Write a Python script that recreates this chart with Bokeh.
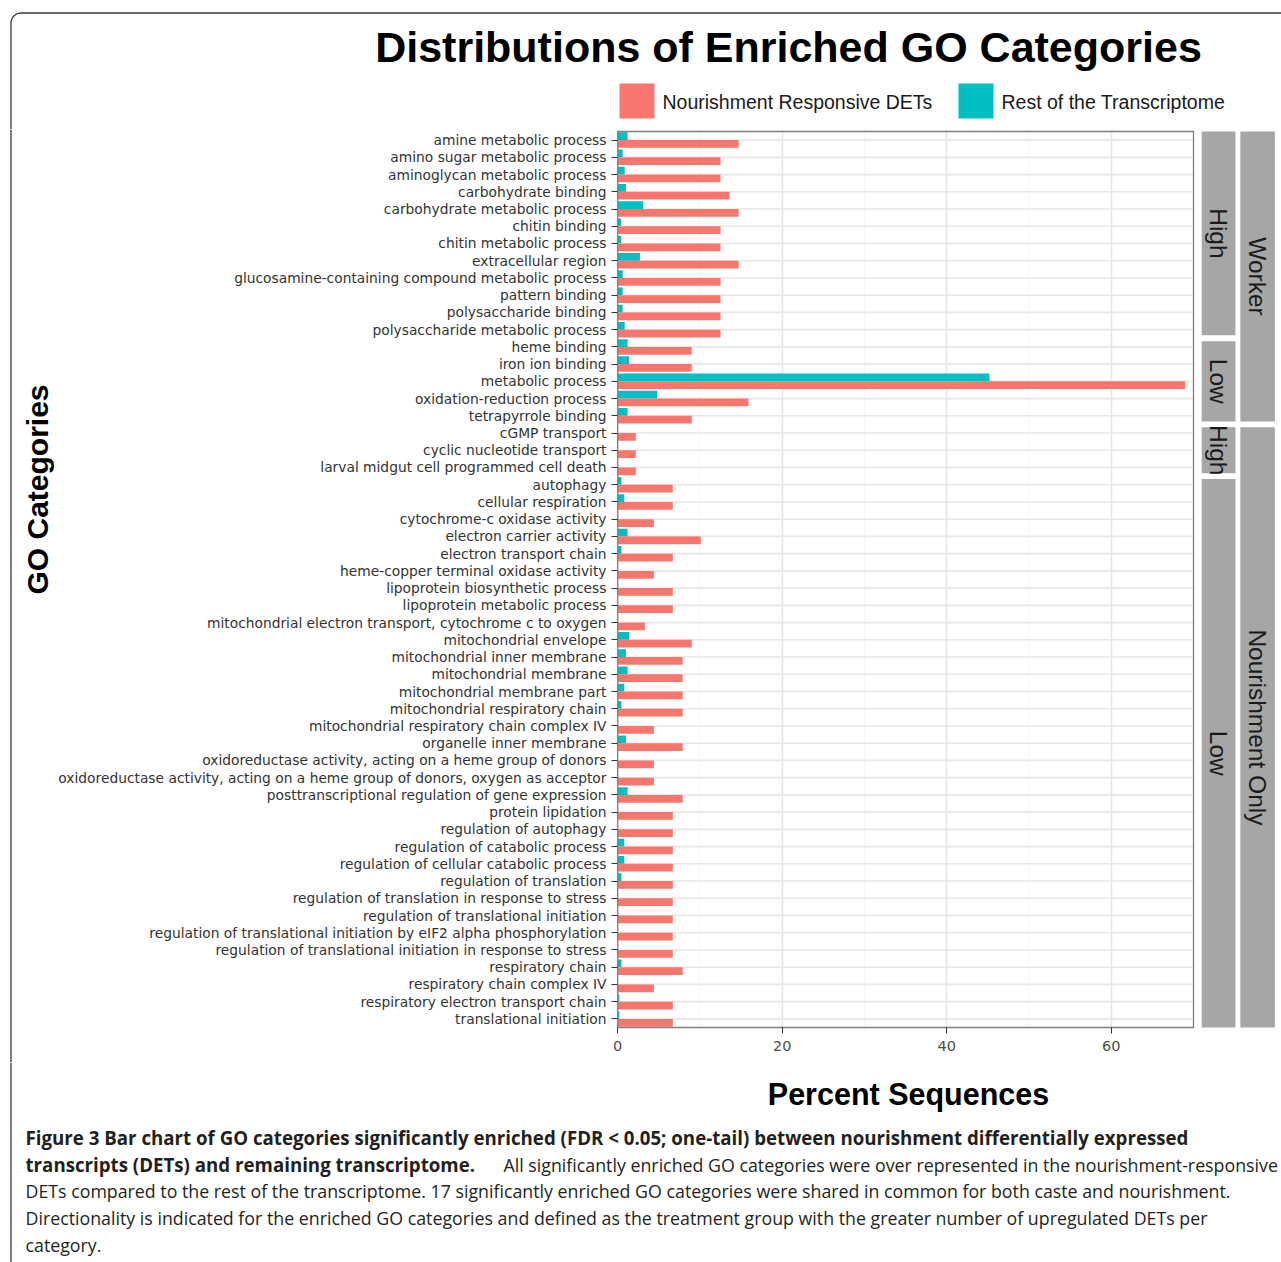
import math
from bokeh.plotting import figure
from bokeh.layouts import column, row
from bokeh.models import Range1d, FixedTicker
from bokeh.core.properties import value
from bokeh.embed import file_html
from bokeh.resources import INLINE

# ---------------- data ----------------
categories = [
    "amine metabolic process",
    "amino sugar metabolic process",
    "aminoglycan metabolic process",
    "carbohydrate binding",
    "carbohydrate metabolic process",
    "chitin binding",
    "chitin metabolic process",
    "extracellular region",
    "glucosamine-containing compound metabolic process",
    "pattern binding",
    "polysaccharide binding",
    "polysaccharide metabolic process",
    "heme binding",
    "iron ion binding",
    "metabolic process",
    "oxidation-reduction process",
    "tetrapyrrole binding",
    "cGMP transport",
    "cyclic nucleotide transport",
    "larval midgut cell programmed cell death",
    "autophagy",
    "cellular respiration",
    "cytochrome-c oxidase activity",
    "electron carrier activity",
    "electron transport chain",
    "heme-copper terminal oxidase activity",
    "lipoprotein biosynthetic process",
    "lipoprotein metabolic process",
    "mitochondrial electron transport, cytochrome c to oxygen",
    "mitochondrial envelope",
    "mitochondrial inner membrane",
    "mitochondrial membrane",
    "mitochondrial membrane part",
    "mitochondrial respiratory chain",
    "mitochondrial respiratory chain complex IV",
    "organelle inner membrane",
    "oxidoreductase activity, acting on a heme group of donors",
    "oxidoreductase activity, acting on a heme group of donors, oxygen as acceptor",
    "posttranscriptional regulation of gene expression",
    "protein lipidation",
    "regulation of autophagy",
    "regulation of catabolic process",
    "regulation of cellular catabolic process",
    "regulation of translation",
    "regulation of translation in response to stress",
    "regulation of translational initiation",
    "regulation of translational initiation by eIF2 alpha phosphorylation",
    "regulation of translational initiation in response to stress",
    "respiratory chain",
    "respiratory chain complex IV",
    "respiratory electron transport chain",
    "translational initiation",
]

nourishment_dets = [
    14.7, 12.5, 12.5, 13.6, 14.7, 12.5, 12.5, 14.7, 12.5, 12.5, 12.5, 12.5,
    9.0, 9.0, 69.0, 15.9, 9.0,
    2.2, 2.2, 2.2,
    6.7, 6.7, 4.4, 10.1, 6.7, 4.4, 6.7, 6.7, 3.3, 9.0, 7.9, 7.9, 7.9, 7.9,
    4.4, 7.9, 4.4, 4.4, 7.9, 6.7, 6.7, 6.7, 6.7, 6.7, 6.7, 6.7, 6.7, 6.7,
    7.9, 4.4, 6.7, 6.7,
]

rest_transcriptome = [
    1.2, 0.6, 0.85, 1.0, 3.1, 0.4, 0.4, 2.7, 0.6, 0.6, 0.6, 0.85,
    1.2, 1.4, 45.2, 4.8, 1.2,
    0.0, 0.0, 0.0,
    0.45, 0.8, 0.0, 1.2, 0.45, 0.0, 0.0, 0.0, 0.0, 1.4, 1.0, 1.2, 0.8, 0.45,
    0.0, 1.0, 0.0, 0.0, 1.2, 0.0, 0.0, 0.8, 0.8, 0.45, 0.0, 0.0, 0.0, 0.0,
    0.45, 0.0, 0.2, 0.2,
]

caste = ["Worker"] * 17 + ["Nourishment Only"] * 35
direction = ["High"] * 12 + ["Low"] * 5 + ["High"] * 3 + ["Low"] * 32

x_ticks = [0, 20, 40, 60]
x_minor = [10, 30, 50]
x_max = 70

series_names = ["Nourishment Responsive DETs", "Rest of the Transcriptome"]
series_colors = ["#F8766D", "#00BFC4"]

title_text = "Distributions of Enriched GO Categories"
x_title = "Percent Sequences"
y_title = "GO Categories"

caption_lines = [
    [("Figure 3 Bar chart of GO categories significantly enriched (FDR < 0.05; one-tail) between nourishment differentially expressed", True)],
    [("transcripts (DETs) and remaining transcriptome.", True),
     ("All significantly enriched GO categories were over represented in the nourishment-responsive", False)],
    [("DETs compared to the rest of the transcriptome. 17 significantly enriched GO categories were shared in common for both caste and nourishment.", False)],
    [("Directionality is indicated for the enriched GO categories and defined as the treatment group with the greater number of upregulated DETs per", False)],
    [("category.", False)],
]

# ---------------- page geometry (pixels) ----------------
W = 1281
TOP_H = 129
MAIN_TOP = 129
FRAME_H = 900
AXIS_H = 33
MID_H = FRAME_H + AXIS_H
CAP_TOP = MAIN_TOP + MID_H
H = 1262
YT_W = 54
FRAME_LEFT = 615
BORDER_X = 10.5
BORDER_Y = 12.5
BORDER_R = 10
BORDER_COL = "#3A3A3A"


def pixel_fig(x0, x1, y0, y1):
    f = figure(output_backend="svg", toolbar_location=None, title=None,
               frame_width=int(x1 - x0), frame_height=int(y1 - y0),
               x_range=Range1d(x0, x1), y_range=Range1d(y1, y0),
               x_axis_location=None, y_axis_location=None,
               min_border=0, background_fill_color="white", border_fill_color="white")
    f.outline_line_color = None
    f.grid.visible = False
    return f


def txt(f, s, x, y, size, bold=False, align="left", angle=0.0,
        color="black", font="Liberation Sans"):
    f.text(x=[x], y=[y], text=[s], text_font=value(font), text_font_size=size,
           text_font_style="bold" if bold else "normal", text_align=align,
           text_baseline="middle", angle=angle, text_color=color)


def left_edge(f, y0, y1):
    f.line(x=[BORDER_X, BORDER_X], y=[y0, y1], line_color=BORDER_COL, line_width=1.3)


# ---------------- top: title + legend ----------------
top = pixel_fig(0, W, 0, TOP_H)
corner = [(BORDER_X + BORDER_R - BORDER_R * math.cos(a * math.pi / 40),
           BORDER_Y + BORDER_R - BORDER_R * math.sin(a * math.pi / 40)) for a in range(21)]
top.line(x=[W] + [c[0] for c in reversed(corner)] + [BORDER_X],
         y=[BORDER_Y] + [c[1] for c in reversed(corner)] + [TOP_H],
         line_color=BORDER_COL, line_width=1.3)
txt(top, title_text, 788, 46, "43px", bold=True, align="center")
leg_x = [619, 958]
top.quad(left=leg_x, right=[lx + 35 for lx in leg_x], top=[83, 83], bottom=[118, 118],
         fill_color=series_colors, line_color=None)
for name, lx in zip(series_names, leg_x):
    txt(top, name, lx + 43, 101, "19.5px", color="#1A1A1A")

# ---------------- middle left: y title ----------------
yt = pixel_fig(0, YT_W, MAIN_TOP, CAP_TOP)
left_edge(yt, MAIN_TOP, CAP_TOP)
txt(yt, y_title, 37, 489, "30px", bold=True, align="center", angle=math.pi / 2)

# ---------------- main panel ----------------
n = len(categories)
rows = list(range(n))
PAD = 0.116

p = figure(
    output_backend="svg", toolbar_location=None, title=None,
    frame_width=W - FRAME_LEFT, frame_height=FRAME_H,
    min_border_left=FRAME_LEFT - YT_W, min_border_right=0, min_border_top=0,
    min_border_bottom=AXIS_H,
    x_range=Range1d(-0.27, 80.7),
    y_range=Range1d(n - 0.5 + PAD, -0.5 - PAD),
    background_fill_color="white", border_fill_color="white",
)
p.outline_line_color = None

p.xgrid.ticker = FixedTicker(ticks=x_ticks, minor_ticks=x_minor)
p.xgrid.grid_line_color = "#E6E6E6"
p.xgrid.grid_line_width = 1.6
p.xgrid.minor_grid_line_color = "#F3F3F3"
p.xgrid.minor_grid_line_width = 0.9
p.ygrid.grid_line_color = None

p.segment(x0=[0] * n, x1=[x_max] * n, y0=rows, y1=rows, line_color="#E6E6E6", line_width=1.6)

p.hbar(y=[r - 0.225 for r in rows], left=0, right=rest_transcriptome, height=0.45,
       fill_color=series_colors[1], line_color=None)
p.hbar(y=[r + 0.225 for r in rows], left=0, right=nourishment_dets, height=0.45,
       fill_color=series_colors[0], line_color=None)

p.quad(left=[0], right=[x_max], top=[-0.5], bottom=[n - 0.5],
       fill_color=None, line_color="#7F7F7F", line_width=1.3)


def groups(labels):
    out = []
    start = 0
    for i in range(1, n + 1):
        if i == n or labels[i] != labels[start]:
            out.append((labels[start], start, i - 1))
            start = i
    return out


GAP = 0.17
inner = groups([c + "|" + d for c, d in zip(caste, direction)])
outer = groups(caste)
for grp, x0s, x1s, fmt in [(inner, 71.0, 75.1, lambda s: s.split("|")[1]),
                           (outer, 75.7, 79.9, lambda s: s)]:
    tops, bots, mids, texts = [], [], [], []
    for lab, a, b in grp:
        t = a - 0.5 + (GAP if a > 0 else 0)
        bt = b + 0.5 - (GAP if b < n - 1 else 0)
        tops.append(t); bots.append(bt); mids.append((t + bt) / 2); texts.append(fmt(lab))
    p.quad(left=x0s, right=x1s, top=tops, bottom=bots, fill_color="#A6A6A6", line_color=None)
    p.text(x=[(x0s + x1s) / 2] * len(mids), y=mids, text=texts, angle=-math.pi / 2,
           text_align="center", text_baseline="middle", text_font=value("Liberation Sans"),
           text_font_size="24.5px", text_color="#1A1A1A")

p.yaxis.ticker = FixedTicker(ticks=rows)
p.yaxis.major_label_overrides = {i: c for i, c in enumerate(categories)}
p.yaxis.axis_line_color = None
p.yaxis.major_tick_line_color = "#333333"
p.yaxis.major_tick_in = 2
p.yaxis.major_tick_out = 4
p.yaxis.minor_tick_line_color = None
p.yaxis.major_label_standoff = 5
p.yaxis.major_label_text_font = "DejaVu Sans"
p.yaxis.major_label_text_font_size = "13.8px"
p.yaxis.major_label_text_color = "#333333"

p.xaxis.ticker = FixedTicker(ticks=x_ticks, minor_ticks=x_minor)
p.xaxis.axis_line_color = None
p.xaxis.major_tick_line_color = "#333333"
p.xaxis.major_tick_in = 2
p.xaxis.major_tick_out = 4
p.xaxis.minor_tick_line_color = None
p.xaxis.major_label_standoff = 7
p.xaxis.major_label_text_font = "DejaVu Sans"
p.xaxis.major_label_text_font_size = "14.5px"
p.xaxis.major_label_text_color = "#4D4D4D"

# ---------------- bottom: x title + caption ----------------
cap = pixel_fig(0, W, CAP_TOP, H)
left_edge(cap, CAP_TOP, H)
txt(cap, x_title, 908, 1093, "30.5px", bold=True, align="center")
centers = [1137, 1164, 1190.5, 1217, 1244]
for line, yc in zip(caption_lines, centers):
    xpos = 25
    for s, bold in line:
        txt(cap, s, xpos, yc, "18.7px" if bold else "17.8px", bold=bold,
            color="#231F20", font="Open Sans")
        xpos = 503

layout = column(top, row(yt, p), cap)
open("out.html", "w").write(file_html(layout, INLINE))
